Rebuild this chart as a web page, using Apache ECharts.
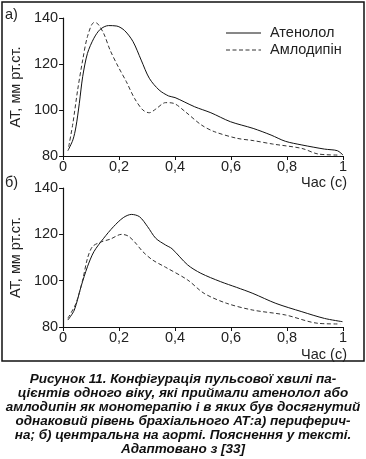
<!DOCTYPE html>
<html><head><meta charset="utf-8">
<script src="https://cdn.jsdelivr.net/npm/echarts@6/dist/echarts.min.js"></script>
<style>html,body{margin:0;padding:0;background:#fff}#c{width:366px;height:459px}</style>
</head><body><div id="c"></div>
<script>
// Panel а) peripheral
const aTimeAten = [0.017,0.035,0.046,0.058,0.07,0.087,0.11,0.133,0.162,0.192,0.22,0.25,0.279,0.308,0.343,0.377,0.40,0.47,0.528,0.598,0.679,0.743,0.794,0.853,0.934,0.98,1.0];
const aAten = [82.3,87,92.7,102.9,114.5,124.6,131.2,135.1,136.7,136.5,134.5,129.7,121.7,113.8,108.7,106.1,105.4,101.4,98.8,94.9,92,89.1,86.4,84.8,83,82.3,80.4];
const aTimeAmlo = [0.02,0.035,0.052,0.07,0.087,0.11,0.122,0.145,0.168,0.197,0.226,0.255,0.285,0.308,0.331,0.366,0.395,0.436,0.494,0.54,0.621,0.679,0.749,0.853,0.91,0.99];
const aAmlo = [84,94.2,108.7,121.7,131.9,138,137.7,133.3,126,118.8,112.3,105.1,100,98.8,100.4,103.2,102.9,99.3,93.5,90.6,87.7,86.7,85.2,83.3,80.9,80.4];
// Panel б) central (aorta)
const bTimeAten = [0.017,0.04,0.064,0.087,0.11,0.145,0.18,0.215,0.244,0.273,0.302,0.331,0.366,0.389,0.445,0.492,0.562,0.62,0.678,0.76,0.853,0.934,0.998];
const bAten = [83,87.3,97.4,106,112.5,118.3,123.3,127.2,128.6,127.6,123.3,118.3,115.4,113.8,106.8,103.2,99.6,97.1,94.5,90.2,86.6,83.7,82.3];
const bTimeAmlo = [0.017,0.046,0.07,0.087,0.105,0.133,0.168,0.209,0.232,0.255,0.285,0.32,0.366,0.445,0.504,0.585,0.678,0.794,0.91,0.99];
const bAmlo = [83.8,90.2,100.3,109.6,114.7,116.6,117.9,120,119.3,116.8,112.5,108.9,105.8,100.3,94.5,90.2,87.3,85.2,81.6,81.3];

const seriesNames = ['Атенолол','Амлодипін'];
const yAxisName = 'АТ, мм рт.ст.';
const xAxisName = 'Час (с)';
const panelLabels = ['а)','б)'];
const captionLines = [
 'Рисунок 11. Конфігурація пульсової хвилі па-',
 'цієнтів одного віку, які приймали атенолол або',
 'амлодипін як монотерапію і в яких був досягнутий',
 'однаковий рівень брахіального АТ:а) периферич-',
 'на; б) центральна на аорті. Пояснення у тексті.',
 'Адаптовано з [33]'
];

const zip = (xs, ys) => xs.map((x,i)=>[x, ys[i]]);
const FONT = 'Liberation Sans, Arial, sans-serif';
const FS = 14.5;
const txt = {color:'#222', fontFamily: FONT, fontSize: FS};
const DASH = [4,2.5];

function xAx(gi){
  return {gridIndex: gi, type:'value', min:0, max:1, interval:0.2,
    axisLine:{lineStyle:{color:'#111', width:1.2}},
    axisTick:{length:4, lineStyle:{color:'#111'}},
    splitLine:{show:false},
    axisLabel:Object.assign({margin:3, formatter:v=>String(+v.toFixed(1)).replace('.',',')}, txt)};
}
function yAx(gi){
  return {gridIndex: gi, type:'value', min:80, max:140, interval:20,
    axisLine:{show:true, lineStyle:{color:'#111', width:1.2}},
    axisTick:{show:true, length:4, lineStyle:{color:'#111'}},
    splitLine:{show:false},
    name: yAxisName, nameLocation:'middle', nameGap:38, nameRotate:90,
    nameTextStyle: Object.assign({}, txt),
    axisLabel:Object.assign({margin:5}, txt)};
}
function ser(name, gi, data, dashed){
  return {name, type:'line', xAxisIndex:gi, yAxisIndex:gi, data, symbol:'none', smooth:0.3,
    lineStyle:{color: dashed ? '#333' : '#111', width:1, type: dashed ? DASH : 'solid'}};
}

const chart = echarts.init(document.getElementById('c'), null, {renderer:'canvas'});
chart.setOption({
  backgroundColor:'#fff',
  animation:false,
  title:{text: captionLines.join('\n'), left:'center', top:367,
    textStyle:{fontFamily: FONT, fontSize:13.5, fontWeight:'bold', fontStyle:'italic', color:'#111', lineHeight:14}},
  grid:[{left:55, top:18, width:288, height:138},{left:55, top:188, width:288, height:139}],
  xAxis:[xAx(0), xAx(1)],
  yAxis:[yAx(0), yAx(1)],
  series:[
    ser(seriesNames[0],0,zip(aTimeAten,aAten),false),
    ser(seriesNames[1],0,zip(aTimeAmlo,aAmlo),true),
    ser(seriesNames[0],1,zip(bTimeAten,bAten),false),
    ser(seriesNames[1],1,zip(bTimeAmlo,bAmlo),true)
  ],
  graphic:[
    {type:'rect', shape:{x:2, y:2, width:362, height:359}, style:{fill:'none', stroke:'#111', lineWidth:1.5}, silent:true},
    {type:'text', left:5, top:7, style:{text:panelLabels[0], font:FS+'px '+FONT, fill:'#222'}},
    {type:'text', left:5, top:175, style:{text:panelLabels[1], font:FS+'px '+FONT, fill:'#222'}},
    {type:'text', right:19, top:175, style:{text:xAxisName, font:FS+'px '+FONT, fill:'#222'}},
    {type:'text', right:19, top:347, style:{text:xAxisName, font:FS+'px '+FONT, fill:'#222'}},
    // legend
    {type:'line', shape:{x1:226, y1:33, x2:261, y2:33}, style:{stroke:'#111', lineWidth:1}},
    {type:'text', left:270, top:25, style:{text:seriesNames[0], font:FS+'px '+FONT, fill:'#222'}},
    {type:'line', shape:{x1:226, y1:50, x2:261, y2:50}, style:{stroke:'#333', lineWidth:1, lineDash:DASH}},
    {type:'text', left:270, top:42, style:{text:seriesNames[1], font:FS+'px '+FONT, fill:'#222'}}
  ]
});
</script></body></html>
